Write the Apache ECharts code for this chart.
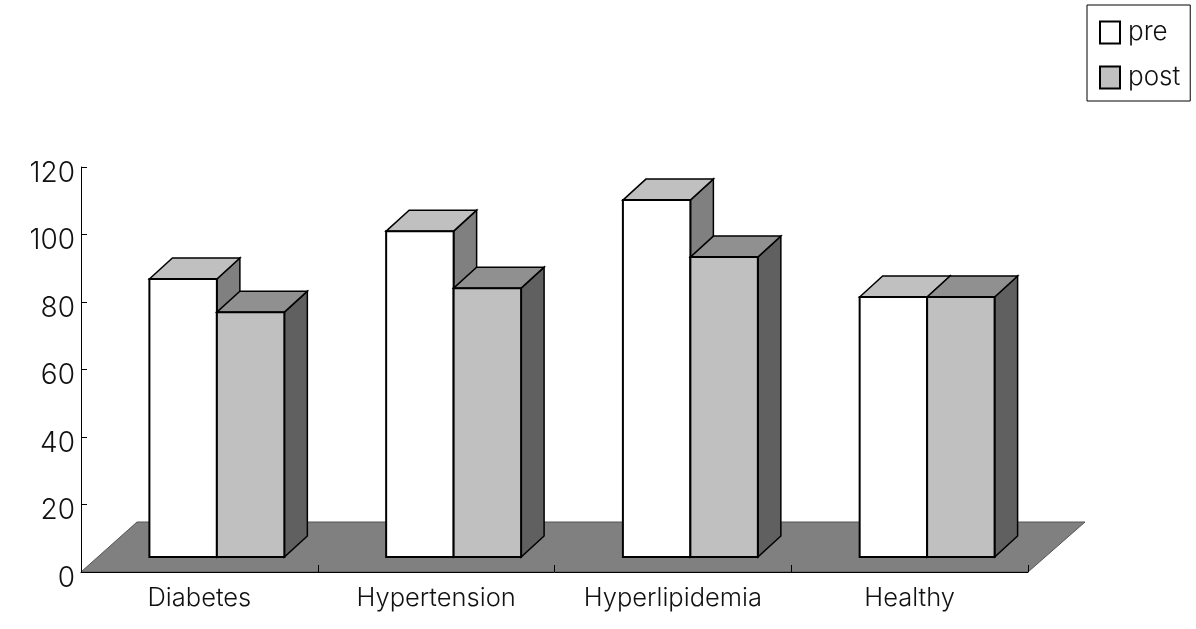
<!DOCTYPE html>
<html>
<head>
<meta charset="utf-8">
<style>
  html, body { margin: 0; padding: 0; background: #fff; }
  #chart { width: 1196px; height: 629px; }
</style>
<script src="https://cdn.jsdelivr.net/npm/echarts@6/dist/echarts.min.js"></script>
</head>
<body>
<div id="chart"></div>
<script>
const categories = ['Diabetes', 'Hypertension', 'Hyperlipidemia', 'Healthy']
const preValues = [86.8, 101, 110.2, 81.5]
const postValues = [77, 84.1, 93.3, 81.5]

// pseudo 3d look, all in pixels
const DEPTH_X = 23
const DEPTH_Y = 21
const FLOOR_DX = 56
const FLOOR_DY = 50
const FLOOR_INSET = 15
const GROUP_SHIFT = 17.5
const FONT = 'Inter, "Liberation Sans", Arial, sans-serif'

function poly(points, fill, lineWidth) {
  return {
    type: 'polygon',
    shape: { points },
    style: { fill, stroke: '#000', lineWidth, lineJoin: 'miter' },
  }
}

function barRenderer(slot, frontColor, topColor, sideColor) {
  return (params, api) => {
    const band = api.size([1, 0])[0]
    const w = band * 0.285
    const top = api.coord([api.value(0), api.value(1)])
    const bottom = params.coordSys.y + params.coordSys.height - FLOOR_INSET
    const x0 = top[0] + GROUP_SHIFT + (slot === 0 ? -w : 0)
    const x1 = x0 + w
    const y = top[1]
    return {
      type: 'group',
      children: [
        poly([[x1, y], [x1 + DEPTH_X, y - DEPTH_Y], [x1 + DEPTH_X, bottom - DEPTH_Y], [x1, bottom]], sideColor, 1.5),
        poly([[x0, y], [x0 + DEPTH_X, y - DEPTH_Y], [x1 + DEPTH_X, y - DEPTH_Y], [x1, y]], topColor, 1.5),
        poly([[x0, y], [x1, y], [x1, bottom], [x0, bottom]], frontColor, 2),
      ],
    }
  }
}

function floorRenderer(params) {
  const c = params.coordSys
  const b = c.y + c.height
  const r = c.x + c.width
  return {
    type: 'polygon',
    shape: { points: [[c.x, b], [c.x + FLOOR_DX, b - FLOOR_DY], [r + FLOOR_DX + 1, b - FLOOR_DY], [r, b]] },
    style: { fill: '#808080', stroke: '#555', lineWidth: 1 },
  }
}

const chart = echarts.init(document.getElementById('chart'), null, { renderer: 'canvas' })
chart.setOption({
  backgroundColor: '#fff',
  animation: false,
  grid: { left: 81, right: 168, top: 167, bottom: 57 },
  legend: {
    left: 1087,
    top: 5,
    orient: 'vertical',
    padding: [13, 10, 9, 12],
    itemWidth: 20,
    itemHeight: 22,
    itemGap: 16,
    borderColor: '#000',
    borderWidth: 1,
    icon: 'rect',
    textStyle: { fontFamily: FONT, fontWeight: 300, fontSize: 26, color: '#111', padding: [3, 0, 0, 3], verticalAlign: 'top', lineHeight: 26 },
    data: [
      { name: 'pre', itemStyle: { color: '#fff', borderColor: '#000', borderWidth: 2 } },
      { name: 'post', itemStyle: { color: '#c0c0c0', borderColor: '#000', borderWidth: 2 } },
    ],
  },
  xAxis: {
    type: 'category',
    data: categories,
    z: 5,
    axisLine: { lineStyle: { color: '#000', width: 1 } },
    axisTick: { show: true, inside: true, length: 7, alignWithLabel: false, lineStyle: { color: '#000', width: 1 } },
    axisLabel: { fontFamily: FONT, fontWeight: 300, fontSize: 25.5, color: '#111', margin: 13 },
  },
  yAxis: {
    type: 'value',
    min: 0,
    max: 120,
    interval: 20,
    z: 5,
    splitLine: { show: false },
    axisLine: { show: true, lineStyle: { color: '#000', width: 1 } },
    axisTick: { show: true, inside: true, length: 6, lineStyle: { color: '#000' } },
    axisLabel: { fontFamily: FONT, fontWeight: 300, fontSize: 28, color: '#111', margin: 6, verticalAlign: 'top', lineHeight: 13 },
  },
  series: [
    {
      name: 'floor',
      type: 'custom',
      coordinateSystem: 'cartesian2d',
      renderItem: floorRenderer,
      data: [[0, 0]],
      silent: true,
      z: -1,
    },
    {
      name: 'pre',
      type: 'custom',
      renderItem: barRenderer(0, '#fff', '#c0c0c0', '#808080'),
      data: preValues.map((v, i) => [i, v]),
      itemStyle: { color: '#fff' },
      z: 2,
    },
    {
      name: 'post',
      type: 'custom',
      renderItem: barRenderer(1, '#c0c0c0', '#909090', '#606060'),
      data: postValues.map((v, i) => [i, v]),
      itemStyle: { color: '#c0c0c0' },
      z: 2,
    },
  ],
})
</script>
</body>
</html>
